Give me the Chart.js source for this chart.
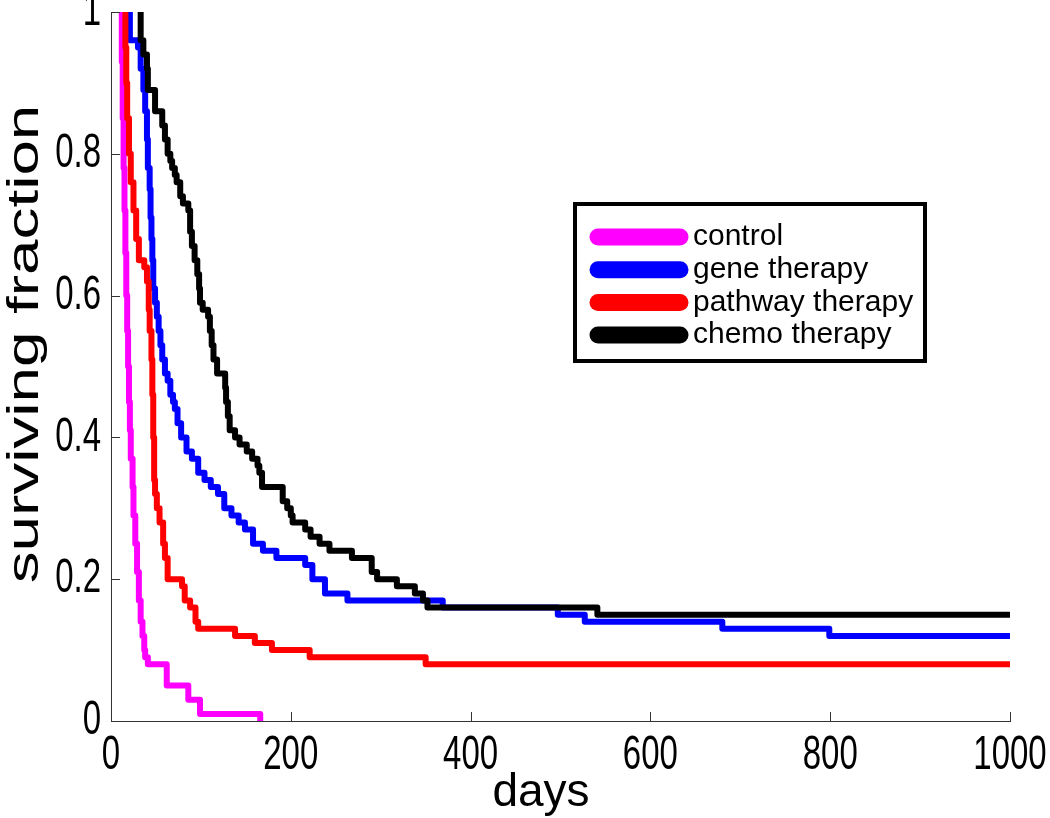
<!DOCTYPE html>
<html>
<head>
<meta charset="utf-8">
<title>surviving fraction</title>
<script src="https://cdn.jsdelivr.net/npm/chart.js@4.4.0/dist/chart.umd.min.js"></script>
<style>
    body { margin: 0; background: #fff; }
    #wrap { position: relative; width: 1050px; height: 818px; }
</style>
</head>
<body>
<div id="wrap"><canvas id="myChart"></canvas></div>
<script>
var xTicks = [0, 200, 400, 600, 800, 1000];
var yTicks = [0, 0.2, 0.4, 0.6, 0.8, 1];
var xTitle = 'days';
var yTitle = 'surviving fraction';
var seriesNames = ['control', 'gene therapy', 'pathway therapy', 'chemo therapy'];
var seriesColors = ['#ff00ff', '#0000ff', '#ff0000', '#000000'];

// day of each drop, fraction after the drop
var controlDays = [11, 12, 13, 14, 15, 16, 17, 18, 19, 20, 21, 22, 24, 25, 27, 29, 31, 33, 35, 37, 38, 41, 62, 86, 99, 166];
var controlSurv = [1.0, 0.93, 0.85, 0.78, 0.72, 0.66, 0.60, 0.55, 0.50, 0.45, 0.41, 0.37, 0.33, 0.29, 0.25, 0.21, 0.17, 0.14, 0.12, 0.10, 0.09, 0.08, 0.05, 0.03, 0.01, 0];

var geneDays = [17, 21, 30, 33, 36, 38, 40, 41, 43, 44, 45, 46, 47, 49, 51, 53, 55, 57, 60, 63, 66, 69, 71, 74, 78, 84, 90, 97, 104, 111, 119, 126, 134, 142, 149, 158, 169, 184, 216, 224, 238, 263, 369, 497, 527, 680, 799, 1000];
var geneSurv = [1.0, 0.96, 0.95, 0.92, 0.89, 0.86, 0.82, 0.78, 0.75, 0.71, 0.68, 0.65, 0.61, 0.59, 0.57, 0.55, 0.53, 0.51, 0.49, 0.48, 0.46, 0.45, 0.44, 0.42, 0.40, 0.38, 0.37, 0.35, 0.34, 0.33, 0.32, 0.30, 0.29, 0.28, 0.27, 0.25, 0.24, 0.23, 0.22, 0.20, 0.18, 0.17, 0.16, 0.15, 0.14, 0.13, 0.12, 0.12];

var pathwayDays = [14, 16, 17, 18, 20, 22, 25, 28, 31, 37, 40, 42, 43, 45, 46, 47, 48, 49, 51, 54, 58, 60, 63, 79, 82, 88, 94, 97, 138, 160, 179, 221, 350, 1000];
var pathwaySurv = [1.0, 0.95, 0.90, 0.85, 0.80, 0.76, 0.72, 0.68, 0.65, 0.64, 0.62, 0.58, 0.55, 0.51, 0.46, 0.40, 0.34, 0.32, 0.30, 0.28, 0.25, 0.23, 0.20, 0.19, 0.17, 0.16, 0.14, 0.13, 0.12, 0.11, 0.10, 0.09, 0.08, 0.08];

var chemoDays = [32, 33, 36, 40, 41, 49, 57, 60, 63, 66, 68, 71, 73, 77, 80, 86, 88, 90, 93, 96, 98, 99, 102, 108, 110, 112, 114, 118, 127, 128, 130, 132, 138, 143, 151, 157, 163, 165, 168, 191, 196, 200, 202, 216, 222, 232, 243, 268, 290, 296, 318, 338, 347, 352, 541, 1000];
var chemoSurv = [1.0, 0.96, 0.94, 0.92, 0.89, 0.86, 0.84, 0.82, 0.80, 0.79, 0.78, 0.77, 0.76, 0.74, 0.73, 0.72, 0.69, 0.67, 0.65, 0.63, 0.61, 0.59, 0.58, 0.57, 0.55, 0.53, 0.51, 0.49, 0.47, 0.45, 0.43, 0.41, 0.40, 0.39, 0.38, 0.37, 0.36, 0.35, 0.33, 0.31, 0.30, 0.29, 0.28, 0.27, 0.26, 0.25, 0.24, 0.23, 0.21, 0.20, 0.19, 0.18, 0.17, 0.16, 0.15, 0.15];

function toPoints(days, surv) {
    return days.map(function (d, i) { return { x: d, y: surv[i] }; });
}

function makeSet(i, days, surv) {
    return {
        label: seriesNames[i],
        data: toPoints(days, surv),
        borderColor: seriesColors[i],
        backgroundColor: seriesColors[i],
        borderWidth: 6,
        pointRadius: 0,
        stepped: true, // horizontal first, then the drop
        borderJoinStyle: 'round',
        fill: false,
        order: 3 - i // chemo drawn last, on top
    };
}

// text stretched vertically, like the tall narrow labels of the original
function tallText(ctx, text, x, y, stretch) {
    ctx.save();
    ctx.translate(x, y);
    ctx.scale(1, stretch);
    ctx.fillText(text, 0, 0);
    ctx.restore();
}

// inward tick marks, tick labels, axis titles and the boxed legend
var overlay = {
    id: 'overlay',
    afterDraw: function (chart) {
        var ctx = chart.ctx;
        var xs = chart.scales.x, ys = chart.scales.y;
        var area = chart.chartArea;
        ctx.save();
        ctx.strokeStyle = '#333';
        ctx.lineWidth = 1;
        ctx.beginPath();
        xTicks.forEach(function (t) {
            var px = Math.round(xs.getPixelForValue(t)) + 0.5;
            ctx.moveTo(px, area.bottom);
            ctx.lineTo(px, area.bottom - 9);
        });
        yTicks.forEach(function (t) {
            var py = Math.round(ys.getPixelForValue(t)) + 0.5;
            ctx.moveTo(area.left, py);
            ctx.lineTo(area.left + 9, py);
        });
        ctx.stroke();

        ctx.fillStyle = '#000';
        ctx.font = '33px "Liberation Sans"';
        ctx.textBaseline = 'middle';
        ctx.textAlign = 'center';
        xTicks.forEach(function (t) {
            tallText(ctx, String(t), xs.getPixelForValue(t), area.bottom + 35, 1.45);
        });
        ctx.textAlign = 'right';
        yTicks.forEach(function (t) {
            tallText(ctx, String(t), area.left - 10, ys.getPixelForValue(t), 1.45);
        });

        ctx.textAlign = 'center';
        ctx.font = '46px "Liberation Sans"';
        ctx.fillText(xTitle, 541, 793);

        ctx.save();
        ctx.translate(26, 344);
        ctx.rotate(-Math.PI / 2);
        ctx.scale(1.45, 1);
        ctx.font = '44px "Liberation Sans"';
        ctx.fillText(yTitle, 0, 0);
        ctx.restore();

        // legend
        ctx.fillStyle = '#fff';
        ctx.fillRect(575, 204, 350, 157);
        ctx.strokeStyle = '#000';
        ctx.lineWidth = 4;
        ctx.strokeRect(575, 204, 350, 157);
        ctx.lineCap = 'round';
        ctx.textAlign = 'left';
        ctx.font = '30px "Liberation Sans"';
        chart.data.datasets.forEach(function (ds, i) {
            var y = 237 + i * 32.7;
            ctx.strokeStyle = ds.borderColor;
            ctx.lineWidth = 17;
            ctx.beginPath();
            ctx.moveTo(598, y);
            ctx.lineTo(680, y);
            ctx.stroke();
            ctx.fillStyle = '#000';
            ctx.fillText(ds.label, 693, y);
        });
        ctx.restore();
    }
};

new Chart(document.getElementById('myChart').getContext('2d'), {
    type: 'line',
    data: {
        datasets: [
            makeSet(0, controlDays, controlSurv),
            makeSet(1, geneDays, geneSurv),
            makeSet(2, pathwayDays, pathwaySurv),
            makeSet(3, chemoDays, chemoSurv)
        ]
    },
    options: {
        responsive: true,
        maintainAspectRatio: false,
        animation: false,
        layout: { padding: { top: 12, right: 40, left: 0, bottom: 0 } },
        plugins: {
            legend: { display: false },
            tooltip: { enabled: false }
        },
        scales: {
            x: {
                type: 'linear',
                min: 0,
                max: 1000,
                afterBuildTicks: function (s) { s.ticks = xTicks.map(function (v) { return { value: v }; }); },
                afterFit: function (s) {
                    s.height = 97;
                    s.paddingLeft = 0;
                    s.paddingRight = 0;
                },
                grid: { display: false, drawTicks: false },
                border: { color: '#333', width: 1 },
                ticks: { display: false }
            },
            y: {
                type: 'linear',
                min: 0,
                max: 1,
                afterBuildTicks: function (s) { s.ticks = yTicks.map(function (v) { return { value: v }; }); },
                afterFit: function (s) {
                    s.width = 111;
                    s.paddingTop = 0;
                    s.paddingBottom = 0;
                },
                grid: { display: false, drawTicks: false },
                border: { color: '#333', width: 1 },
                ticks: { display: false }
            }
        }
    },
    plugins: [overlay]
});
</script>
</body>
</html>
